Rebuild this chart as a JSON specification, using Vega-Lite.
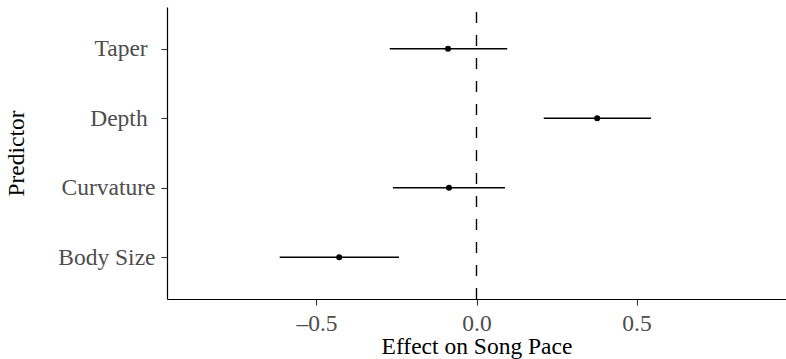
{
  "$schema": "https://vega.github.io/schema/vega-lite/v6.json",
  "autosize": "none",
  "padding": {"left": 167, "top": 7, "right": 0, "bottom": 60},
  "width": 619,
  "height": 292,
  "background": "white",
  "config": {
    "view": {"stroke": null},
    "font": "Liberation Serif",
    "axis": {
      "grid": false,
      "domainColor": "black",
      "domainWidth": 1.2,
      "tickColor": "#333333",
      "tickWidth": 1.1,
      "tickSize": 6,
      "labelFont": "Liberation Serif",
      "labelFontSize": 23.5,
      "labelColor": "#4d4d4d",
      "titleFont": "Liberation Serif",
      "titleFontSize": 23.5,
      "titleFontWeight": "normal",
      "titleColor": "black"
    }
  },
  "data": {
    "values": [
      {"predictor": "Taper", "est": -0.089, "lo": -0.271, "hi": 0.096},
      {"predictor": "Depth", "est": 0.377, "lo": 0.210, "hi": 0.545},
      {"predictor": "Curvature", "est": -0.086, "lo": -0.261, "hi": 0.089},
      {"predictor": "Body Size", "est": -0.429, "lo": -0.615, "hi": -0.242}
    ]
  },
  "layer": [
    {
      "mark": {"type": "rule", "color": "black", "strokeWidth": 1.1, "strokeDash": [11, 12]},
      "encoding": {
        "x": {"datum": 0, "type": "quantitative"},
        "y": {"value": 292},
        "y2": {"value": 0}
      }
    },
    {
      "mark": {"type": "rule", "color": "black", "strokeWidth": 1.4},
      "encoding": {
        "y": {
          "field": "predictor",
          "type": "nominal",
          "sort": ["Taper", "Depth", "Curvature", "Body Size"]
        },
        "x": {"field": "lo", "type": "quantitative"},
        "x2": {"field": "hi"}
      }
    },
    {
      "mark": {"type": "point", "filled": true, "color": "black", "opacity": 1, "size": 36},
      "encoding": {
        "y": {
          "field": "predictor",
          "type": "nominal",
          "sort": ["Taper", "Depth", "Curvature", "Body Size"],
          "scale": {"type": "point", "padding": 0.6},
          "axis": {
            "title": "Predictor",
            "labelPadding": 6,
            "titlePadding": 29,
            "ticks": true,
            "labelExpr": "datum.value == 'Taper' || datum.value == 'Depth' ? datum.value + '\u2004\u200b' : datum.value"
          }
        },
        "x": {
          "field": "est",
          "type": "quantitative",
          "scale": {"domain": [-0.967, 0.967], "nice": false, "zero": false},
          "axis": {
            "title": "Effect on Song Pace",
            "values": [-0.5, 0, 0.5],
            "labelExpr": "datum.value < 0 ? '–' + format(-datum.value, '.1f') : format(datum.value, '.1f')",
            "labelPadding": 6,
            "titlePadding": 0
          }
        }
      }
    }
  ]
}
